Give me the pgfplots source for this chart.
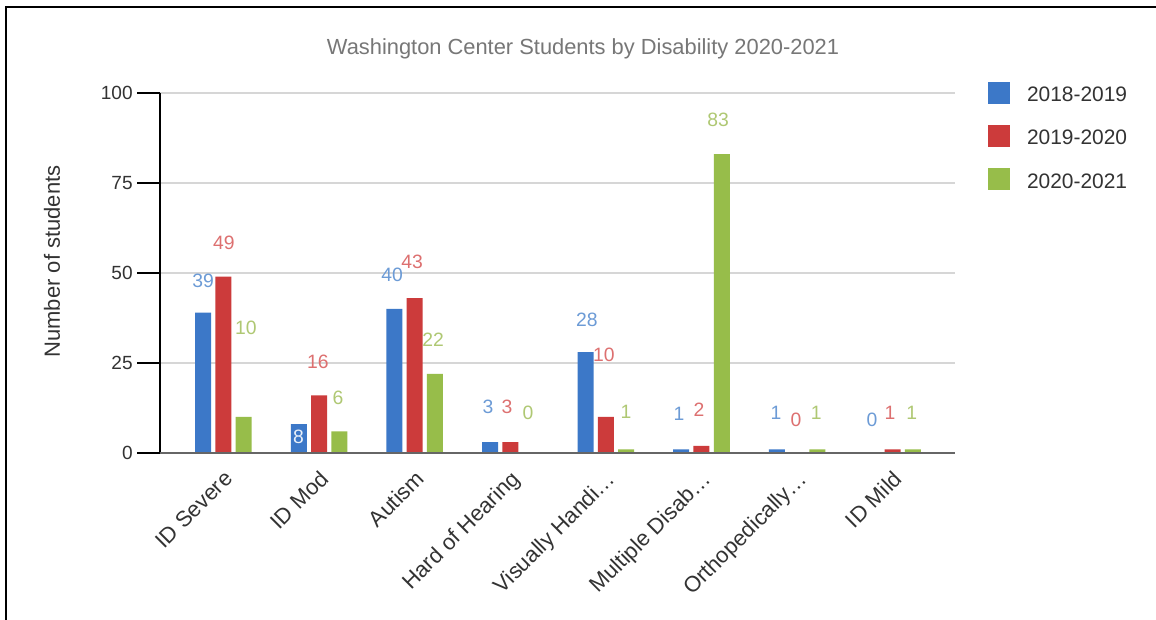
\documentclass[border=0pt]{standalone}
\usepackage{pgfplots}
\pgfplotsset{compat=1.18}
\usepackage{fontspec}
\setmainfont{Liberation Sans}
\definecolor{cblue}{HTML}{3C78C8}
\definecolor{cred}{HTML}{CC3B3B}
\definecolor{cgreen}{HTML}{97BD4A}
\definecolor{lblue}{HTML}{6C9BD6}
\definecolor{lred}{HTML}{DD7070}
\definecolor{lgreen}{HTML}{AFC873}
\definecolor{titlegray}{HTML}{777777}
\definecolor{txt}{HTML}{333333}
\definecolor{gridgray}{HTML}{D6D6D6}
\definecolor{basegray}{HTML}{666666}
\begin{document}
\begin{tikzpicture}
\useasboundingbox (0,0) rectangle (867pt,465pt);
\fill[white] (0,0) rectangle (867pt,465pt);
\draw[line width=1.5pt] (4.5pt,0) -- (4.5pt,459.4pt) -- (867pt,459.4pt);
\node[text=titlegray, font=\fontsize{16.4}{19}\selectfont] at (437.25pt,428.25pt) {Washington Center Students by Disability 2020-2021};
\node[rotate=90, text=txt, font=\fontsize{16.5}{19}\selectfont] at (39pt,268.9pt) {Number of students};
\begin{axis}[
  at={(120pt,125.25pt)}, anchor=south west,
  scale only axis, width=596.25pt, height=270pt,
  xmin=-0.664, xmax=7.652, ymin=0, ymax=100,
  axis lines*=left,
  axis line style={-},
  x axis line style={draw=none},
  y axis line style={line width=1.2pt, black},
  ytick={0,25,50,75,100},
  ymajorgrids, grid style={gridgray, line width=0.9pt},
  tick align=outside, major tick length=17pt,
  ytick style={draw=black, line width=1.2pt},
  xtick={0,1,2,3,4,5,6,7},
  xtick style={draw=none},
  xticklabels={ID Severe, ID Mod, Autism, Hard of Hearing, Visually Handi…, Multiple Disab…, Orthopedically…, ID Mild},
  xticklabel style={xshift=-0.5pt, yshift=5pt, rotate=45, anchor=north east, inner sep=0pt, text=txt, font=\fontsize{16.5}{19}\selectfont},
  yticklabel style={text=txt, font=\fontsize{14.3}{17}\selectfont},
  /pgf/number format/assume math mode=true,
  legend style={at={(1.0415,1.0306)}, anchor=north west, draw=none, fill=none, inner sep=0pt, outer sep=0pt,
    font=\fontsize{15.7}{18}\selectfont, text=txt, row sep=15.9pt, column sep=0pt,
    nodes={inner sep=0pt}},
  legend cell align=left,
  legend image code/.code={\fill[#1] (0pt,-6.4pt) rectangle (16.5pt,10.1pt); \path (29.25pt,0pt);},
  clip=false,
]
\addplot[ybar, bar width=12pt, bar shift=-15.2pt, fill=cblue, draw=none] coordinates {(0,39) (1,8) (2,40) (3,3) (4,28) (5,1) (6,1) (7,0)};
\addlegendentry{2018-2019}
\addplot[ybar, bar width=12pt, bar shift=0pt, fill=cred, draw=none] coordinates {(0,49) (1,16) (2,43) (3,3) (4,10) (5,2) (6,0) (7,1)};
\addlegendentry{2019-2020}
\addplot[ybar, bar width=12pt, bar shift=15.2pt, fill=cgreen, draw=none] coordinates {(0,10) (1,6) (2,22) (3,0) (4,1) (5,83) (6,1) (7,1)};
\addlegendentry{2020-2021}
\draw[basegray, line width=2.2pt] (axis cs:-0.664,0) -- (axis cs:7.652,0);
\addplot[draw=none, mark=none, forget plot, nodes near coords, point meta=explicit symbolic,
  nodes near coords style={text=lblue, anchor=center, inner sep=0pt, font=\fontsize{14.5}{17}\selectfont}]
  coordinates {(-0.214,47.8)[39] (1.763,49.6)[40] (2.767,12.8)[3] (3.802,37.0)[28] (4.765,10.9)[1] (5.779,11.1)[1] (6.784,9.2)[0]};
\addplot[draw=none, mark=none, forget plot, nodes near coords, point meta=explicit symbolic,
  nodes near coords style={text=white!85!lblue, anchor=center, inner sep=0pt, font=\fontsize{14.5}{17}\selectfont}]
  coordinates {(0.785,4.45)[8]};
\addplot[draw=none, mark=none, forget plot, nodes near coords, point meta=explicit symbolic,
  nodes near coords style={text=lred, anchor=center, inner sep=0pt, font=\fontsize{14.5}{17}\selectfont}]
  coordinates {(0.005,58.3)[49] (0.988,25.3)[16] (1.972,53.1)[43] (2.966,12.8)[3] (3.98,27.2)[10] (4.974,11.9)[2] (5.989,9.2)[0] (6.972,11.1)[1]};
\addplot[draw=none, mark=none, forget plot, nodes near coords, point meta=explicit symbolic,
  nodes near coords style={text=lgreen, anchor=center, inner sep=0pt, font=\fontsize{14.5}{17}\selectfont}]
  coordinates {(0.235,34.7)[10] (1.198,15.3)[6] (2.192,31.4)[22] (3.185,11.1)[0] (4.21,11.4)[1] (5.173,92.5)[83] (6.2,11.1)[1] (7.2,11.1)[1]};
\end{axis}
\end{tikzpicture}
\end{document}
